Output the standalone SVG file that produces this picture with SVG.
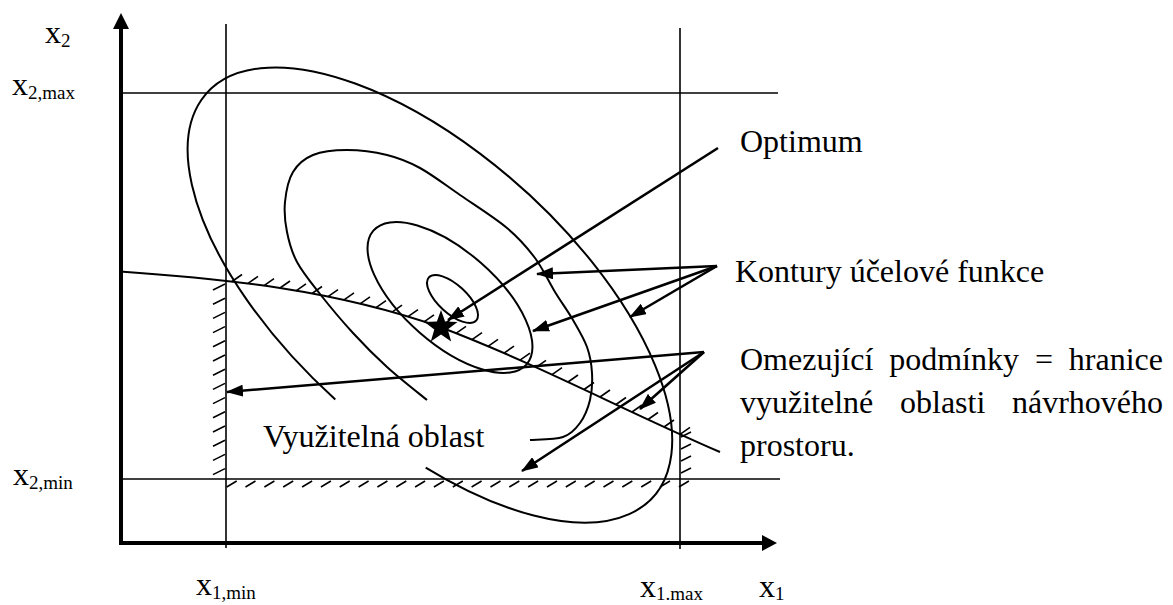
<svg xmlns="http://www.w3.org/2000/svg" width="1173" height="605" viewBox="0 0 1173 605">
<defs>
<marker id="ah" markerUnits="userSpaceOnUse" markerWidth="18" markerHeight="12" refX="16" refY="6" orient="auto"><path d="M0,0 L17,6 L0,12 Z" fill="#000"/></marker>
</defs>
<style>
text { font-family: "Liberation Serif", "Times New Roman", serif; fill: #000; }
.lbl { font-size: 32px; }
.sub { font-size: 19px; }
.grid { stroke: #000; stroke-width: 1.6; fill: none; }
.axis { stroke: #000; stroke-width: 4; fill: none; }
.contour { stroke: #000; stroke-width: 2; fill: none; }
.hatch { stroke: #000; stroke-width: 1.6; fill: none; }
.arrow { stroke: #000; stroke-width: 2.6; fill: none; marker-end: url(#ah); }
</style>
<rect width="1173" height="605" fill="#fff"/>

<g id="bounds">
<line class="grid" x1="226" y1="24" x2="226" y2="548"/>
<line class="grid" x1="680" y1="28" x2="680" y2="549"/>
<line class="grid" x1="123" y1="93" x2="778" y2="93"/>
<line class="grid" x1="123" y1="479" x2="780" y2="479"/>
</g>

<g id="axes">
<path class="axis" d="M121,28 V543 H763"/>
<path d="M121,13 L113,29 L129,29 Z" fill="#000"/>
<path d="M777,543 L762,535 L762,551 Z" fill="#000"/>
</g>

<g id="contours">
<path class="contour" d="M335.3,399.5 A301,141 42.2 1 1 425.7,467.6"/>
<path class="contour" d="M427,400 C420.3,394.5 399.3,378.2 387,367 C374.7,355.8 364.2,345.2 353,333 C341.8,320.8 329.3,305.8 320,294 C310.7,282.2 302.5,272.3 297,262 C291.5,251.7 289,242 287,232 C285,222 284,212 285,202 C286,192 288.3,179.8 293,172 C297.7,164.2 304,158.7 313,155 C322,151.3 334.7,150 347,150 C359.3,150 374.8,152 387,155 C399.2,158 407.8,161.3 420,168 C432.2,174.7 445.5,185 460,195 C474.5,205 494.5,217.5 507,228 C519.5,238.5 527,247.3 535,258 C543,268.7 548.7,281.7 555,292 C561.3,302.3 567.7,310.8 573,320 C578.3,329.2 583.8,338.2 587,347 C590.2,355.8 591.5,364.2 592,373 C592.5,381.8 592,391.7 590,400 C588,408.3 584.5,416.8 580,423 C575.5,429.2 571.3,434.2 563,437 C554.7,439.8 535.5,439.5 530,440"/>
<ellipse class="contour" cx="450" cy="297.5" rx="101.7" ry="46.4" transform="rotate(41.1 450 297.5)"/>
<ellipse class="contour" cx="452.5" cy="299" rx="32" ry="14.1" transform="rotate(42.4 452.5 299)"/>
</g>

<g id="constraints">
<path class="contour" d="M120,271.5 C227,279 333,289.6 440,327 C533,362 627,412 720,452"/>
<path class="hatch" d="M232,281.5 l10,-7 M248,283.4 l10,-7 M264,285.7 l10,-7 M280,288 l10,-7 M296,290.8 l10,-7 M312,293.5 l10,-7 M328,296.7 l10,-7 M344,299.9 l10,-7 M360,303.8 l10,-7 M376,307.6 l10,-7 M392,312.1 l10,-7 M408,316.6 l10,-7 M424,321.8 l10,-7 M440,327 l10,-7 M456,333.3 l10,-7 M472,339.7 l10,-7 M488,346.3 l10,-7 M504,353.1 l10,-7 M520,360.1 l10,-7 M536,367.3 l10,-7 M552,374.6 l10,-7 M568,382 l10,-7 M584,389.5 l10,-7 M600,397 l10,-7 M616,404.5 l10,-7 M632,412 l10,-7 M648,419.5 l10,-7 M664,427 l10,-7 M680,434.4 l10,-7"/>
<path class="hatch" d="M213,290 l12,-6 M213,304.2 l12,-6 M213,318.4 l12,-6 M213,332.6 l12,-6 M213,346.8 l12,-6 M213,361 l12,-6 M213,375.2 l12,-6 M213,389.4 l12,-6 M213,403.6 l12,-6 M213,417.8 l12,-6 M213,432 l12,-6 M213,446.2 l12,-6 M213,460.4 l12,-6 M213,474.6 l12,-6"/>
<path class="hatch" d="M226.7,487 l10,-6 M245.5,487 l10,-6 M264.4,487 l10,-6 M283.2,487 l10,-6 M302.1,487 l10,-6 M320.9,487 l10,-6 M339.7,487 l10,-6 M358.6,487 l10,-6 M377.4,487 l10,-6 M396.3,487 l10,-6 M415.1,487 l10,-6 M433.9,487 l10,-6 M452.8,487 l10,-6 M471.6,487 l10,-6 M490.5,487 l10,-6 M509.3,487 l10,-6 M528.1,487 l10,-6 M547,487 l10,-6 M565.8,487 l10,-6 M584.7,487 l10,-6 M603.5,487 l10,-6 M622.3,487 l10,-6 M641.2,487 l10,-6 M660,487 l10,-6 M678.9,487 l10,-6"/>
<path class="hatch" d="M681,437 l10,-5 M681,449 l10,-5 M681,461 l10,-5 M681,473 l10,-5"/>
</g>

<g id="optimum">
<polygon points="441,310 445.1,321.6 457.5,322.1 447.7,329.6 451.2,341.4 441,334.4 430.8,341.4 434.3,329.6 424.5,322.1 436.9,321.6" fill="#000"/>
</g>

<g id="connectors">
<line class="arrow" x1="718" y1="148" x2="448" y2="320"/>
<line class="arrow" x1="717" y1="266" x2="537" y2="274"/>
<line class="arrow" x1="717" y1="266" x2="533" y2="331"/>
<line class="arrow" x1="717" y1="266" x2="630" y2="317"/>
<line class="arrow" x1="704" y1="352" x2="227" y2="392"/>
<line class="arrow" x1="704" y1="352" x2="522" y2="471"/>
<line class="arrow" x1="704" y1="352" x2="640" y2="409"/>
</g>

<g id="axis-labels">
<text class="lbl" x="45" y="43">x<tspan class="sub" dy="4">2</tspan></text>
<text class="lbl" x="12" y="95">x<tspan class="sub" dy="4">2,max</tspan></text>
<text class="lbl" x="13" y="485">x<tspan class="sub" dy="4">2,min</tspan></text>
<text class="lbl" x="196" y="595">x<tspan class="sub" dy="4">1,min</tspan></text>
<text class="lbl" x="640" y="597">x<tspan class="sub" dy="3">1.max</tspan></text>
<text class="lbl" x="759" y="597">x<tspan class="sub" dy="3">1</tspan></text>
</g>

<g id="label-optimum"><text class="lbl" x="740" y="152">Optimum</text></g>
<g id="label-kontury"><text class="lbl" x="735" y="282">Kontury účelové funkce</text></g>
<g id="label-omezujici">
<text class="lbl" x="740" y="370">Omezující</text>
<text class="lbl" x="889.2" y="370">podmínky</text>
<text class="lbl" x="1034.9" y="370">=</text>
<text class="lbl" x="1163" y="370" text-anchor="end">hranice</text>
<text class="lbl" x="740" y="413">využitelné</text>
<text class="lbl" x="900" y="413">oblasti</text>
<text class="lbl" x="1163" y="413" text-anchor="end">návrhového</text>
<text class="lbl" x="740" y="456">prostoru.</text>
</g>
<g id="label-oblast"><text class="lbl" x="263" y="447">Využitelná oblast</text></g>
</svg>
